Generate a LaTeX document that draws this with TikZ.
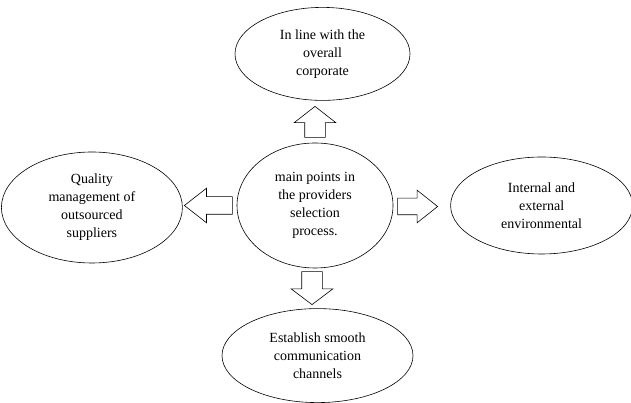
\documentclass[tikz,border=0pt]{standalone}
\usepackage{fontspec}
\setmainfont{Liberation Serif}
\usetikzlibrary{positioning,shapes.geometric,shapes.arrows}

\begin{document}
\begin{tikzpicture}
  [x=1pt,y=1pt,
   line width=0.6pt,
   pointnode/.style={ellipse,
                     draw=black,
                     inner sep=0pt,
                     align=center,
                     font=\fontsize{14}{18}\selectfont},
   blockarrow/.style={single arrow,
                      draw=black,
                      minimum width=0pt,
                      inner xsep=0pt},]
  \useasboundingbox (0,0) rectangle (631,403);
  \node[pointnode, minimum width=156pt, minimum height=125pt] (main) at (315,197.5)
       {main points in\\the providers\\selection\\process.};
  \node[pointnode, minimum width=175pt, minimum height=93pt]  (corp) [above=42pt of main, xshift=7.5pt]
       {In line with the\\overall\\corporate};
  \node[pointnode, minimum width=181pt, minimum height=111pt] (qual) [left=54pt of main, yshift=-2pt]
       {Quality\\management of\\outsourced\\suppliers};
  \node[pointnode, minimum width=182pt, minimum height=97pt]  (envi) [right=57pt of main]
       {Internal and\\external\\environmental};
  \node[pointnode, minimum width=191pt, minimum height=94pt]  (comm) [below=40pt of main, xshift=2.5pt]
       {Establish smooth\\communication\\channels};
  % block arrows between the centre and the four points
  \node[blockarrow, rotate=90, anchor=tail, inner ysep=10pt, single arrow head extend=10.5pt,
        single arrow tip angle=104, minimum height=31pt] (upar) at ([yshift=5pt]main.north) {};
  \node[blockarrow, rotate=180, anchor=tail, inner ysep=8.5pt, single arrow head extend=8.5pt,
        single arrow tip angle=76, minimum height=48pt] (leftar) at ([xshift=-4pt]main.west) {};
  \node[blockarrow, anchor=tail, inner ysep=8pt, single arrow head extend=8pt,
        single arrow tip angle=77, minimum height=40pt] (rightar) at ([xshift=4pt,yshift=-1pt]main.east) {};
  \node[blockarrow, rotate=-90, anchor=tail, inner ysep=10pt, single arrow head extend=10.5pt,
        single arrow tip angle=106, minimum height=33pt] (downar) at ([xshift=-3pt,yshift=-3pt]main.south) {};
\end{tikzpicture}
\end{document}
